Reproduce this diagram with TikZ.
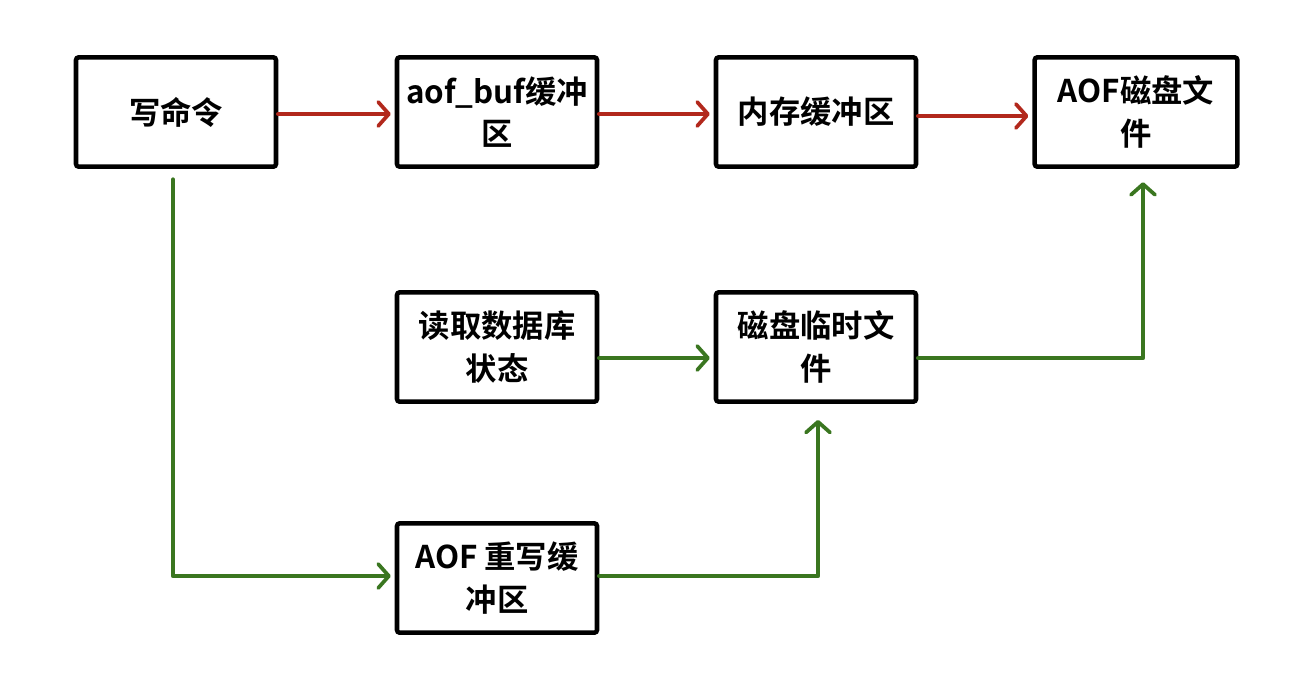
\documentclass[tikz,border=0pt]{standalone}
\usepackage{fontspec}
\newfontfamily\cjk{Noto Sans CJK SC}[BoldFont={Noto Sans CJK SC Bold}]
\usetikzlibrary{arrows.meta,calc}
\definecolor{redarr}{RGB}{178,40,28}
\definecolor{greenarr}{RGB}{58,118,32}
\tikzset{
  boxnode/.style={draw=black,line width=3.4pt,rounded corners=2pt,fill=white,
    minimum width=150pt,minimum height=82pt,align=center,
    font=\cjk\bfseries\fontsize{23.5}{32}\selectfont},
  conn/.style={line width=3.4pt,line cap=round,line join=round,
    -{Straight Barb[length=8pt,width=18pt,line width=2.8pt,round]}},
  redconn/.style={conn,draw=redarr},
  greenconn/.style={conn,draw=greenarr}
}
\begin{document}
\begin{tikzpicture}[x=0.75pt,y=-0.75pt]
\useasboundingbox (0,0) rectangle (1308,676);
\node[boxnode] (w) at (176,112) {写命令};
\node[boxnode] (buf) at (497,112) {aof\_buf缓冲\\区};
\node[boxnode] (mem) at (816,112) {内存缓冲区};
\node[boxnode,minimum width=152pt] (aof) at (1136,112) {AOF磁盘文\\件};
\node[boxnode] (read) at (497,347) {读取数据库\\状态};
\node[boxnode] (tmp) at (816,347) {磁盘临时文\\件};
\node[boxnode] (rw) at (497,578) {AOF 重写缓\\冲区};
\coordinate (c1) at (173,576);
\coordinate (c2) at (818,576);
\coordinate (c3) at (1143,358);
\draw[redconn,shorten >=3pt] (w.east |- 0,114) -- (buf.west |- 0,114);
\draw[redconn,shorten >=3pt] (buf.east |- 0,114) -- (mem.west |- 0,114);
\draw[redconn,shorten >=3pt] (mem.east |- 0,116) -- (aof.west |- 0,116);
\draw[greenconn,shorten <=8pt,shorten >=3pt] (w.south -| c1) -- (c1) -- (rw.west |- c1);
\draw[greenconn,shorten >=12pt] (rw.east |- c2) -- (c2) -- (tmp.south -| c2);
\draw[greenconn,shorten >=3pt] (read.east |- 0,358) -- (tmp.west |- 0,358);
\draw[greenconn,shorten >=10pt] (tmp.east |- c3) -- (c3) -- (aof.south -| c3);
\end{tikzpicture}
\end{document}
